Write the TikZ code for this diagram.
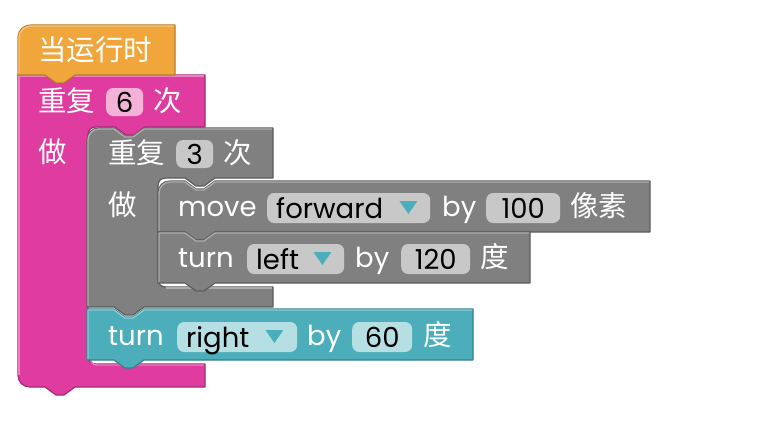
\documentclass[tikz,border=0pt]{standalone}
\usepackage{fontspec}
\setmainfont{Poppins}
\newfontfamily\cjk{Noto Sans CJK SC}
\usetikzlibrary{positioning}
\definecolor{hatorange}{HTML}{F0A63B}
\definecolor{hatdark}{HTML}{B87B2C}
\definecolor{reppink}{HTML}{E03CA0}
\definecolor{pinkdark}{HTML}{A02A73}
\definecolor{pinkfield}{HTML}{F4B2D9}
\definecolor{repgray}{HTML}{808080}
\definecolor{graydark}{HTML}{5C5C5C}
\definecolor{grayfield}{HTML}{C8C8C8}
\definecolor{turnteal}{HTML}{4CAEBB}
\definecolor{tealdark}{HTML}{367F88}
\definecolor{tealfield}{HTML}{B6DFE4}
\definecolor{ddteal}{HTML}{4BAEBC}

\begin{document}
\begin{tikzpicture}[x=1pt, y=-1pt,
    every node/.style={font=\fontsize{27.5}{32}\selectfont, inner sep=0pt,
      text height=23pt, text depth=2pt, anchor=west},
    lbl/.style={text=white},
    zh/.style={text=white, font=\fontsize{28.5}{33}\selectfont\cjk},
    field/.style={fill=#1, rounded corners=7pt, text=black, minimum height=30pt, align=center},
    dd/.style={align=left, text width=#1, inner xsep=9pt},
    ddtri/.style={fill=ddteal},
    blk/.style={fill=#1, line width=1.2pt, line join=round},
    hl/.style={draw=#1!65!white, line width=1.4pt, line join=round}
  ]
  \useasboundingbox (0,0) rectangle (770,444);

  % repeat 6 (pink)
  \filldraw[blk=reppink, draw=pinkdark] (18,75) -- (45,75) -- (56,83) -- (64,83) -- (75,75) -- (205,75)
    -- (205,127) -- (145,127) -- (134,135) -- (126,135) -- (115,127) -- (96,127)
    .. controls (91,127) and (88,130) .. (88,135) -- (88,356)
    .. controls (88,361) and (91,364) .. (96,364) -- (205,364) -- (205,387)
    -- (75,387) -- (64,395) -- (56,395) -- (45,387) -- (30,387)
    .. controls (23,387) and (18,382) .. (18,375) -- cycle;
  \draw[hl=reppink] (19,375) -- (19,76) -- (204,76);
  \draw[hl=reppink] (90,358) .. controls (91,362) and (93,365) .. (97,365) -- (204,365);

  % when run (hat)
  \filldraw[blk=hatorange, draw=hatdark] (18,75) -- (18,37) .. controls (18,30) and (24,25) .. (31,25)
    -- (175,25) -- (175,75) -- (75,75) -- (64,83) -- (56,83) -- (45,75) -- cycle;
  \draw[hl=hatorange] (19,74) -- (19,37) .. controls (19,31) and (25,26) .. (31,26) -- (174,26);

  % repeat 3 (gray)
  \filldraw[blk=repgray, draw=graydark] (87,140) .. controls (87,133) and (92,128) .. (99,128)
    -- (114,128) -- (125,136) -- (133,136) -- (144,128) -- (273,128) -- (273,178)
    -- (215,178) -- (204,186) -- (196,186) -- (185,178) -- (166,178)
    .. controls (161,178) and (158,181) .. (158,186) -- (158,279)
    .. controls (158,284) and (161,287) .. (166,287) -- (273,287) -- (273,307)
    -- (144,307) -- (133,315) -- (125,315) -- (114,307) -- (87,307) -- cycle;
  \draw[hl=repgray] (88,306) -- (88,140) .. controls (88,134) and (93,129) .. (99,129)
    -- (114,129) -- (125,137) -- (133,137) -- (144,129) -- (272,129);
  \draw[hl=repgray] (166,288) -- (272,288);

  % move forward
  \filldraw[blk=repgray, draw=graydark] (158,193) .. controls (158,186) and (163,181) .. (170,181)
    -- (185,181) -- (196,189) -- (204,189) -- (215,181) -- (650,181) -- (650,232)
    -- (215,232) -- (204,240) -- (196,240) -- (185,232) -- (158,232) -- cycle;
  \draw[hl=repgray] (159,231) -- (159,193) .. controls (159,187) and (164,182) .. (170,182)
    -- (185,182) -- (196,190) -- (204,190) -- (215,182) -- (649,182);

  % turn left
  \filldraw[blk=repgray, draw=graydark] (158,232) -- (185,232) -- (196,240) -- (204,240) -- (215,232)
    -- (530,232) -- (530,283) -- (215,283) -- (204,291) -- (196,291) -- (185,283) -- (158,283) -- cycle;
  \draw[hl=repgray] (159,282) -- (159,233) -- (185,233) -- (196,241) -- (204,241) -- (215,233) -- (529,233);

  % turn right (teal)
  \filldraw[blk=turnteal, draw=tealdark] (87,309) -- (114,309) -- (125,317) -- (133,317) -- (144,309)
    -- (473,309) -- (473,360) -- (144,360) -- (133,368) -- (125,368) -- (114,360) -- (87,360) -- cycle;
  \draw[hl=turnteal] (88,359) -- (88,310) -- (114,310) -- (125,318) -- (133,318) -- (144,310) -- (472,310);

  % labels
  \node[zh] (hat) at (38,50) {当运行时};

  \node[zh] (rep6a) at (38,101) {重复};
  \node[field=pinkfield, minimum width=37pt, minimum height=28pt] (rep6n) at (106,102) {6};
  \node[zh] (rep6b) at (153,101) {次};
  \node[zh] (rep6do) at (38,152) {做};

  \node[zh] (rep3a) at (108,153) {重复};
  \node[field=grayfield, minimum width=37pt, minimum height=28pt] (rep3n) at (176,154) {3};
  \node[zh] (rep3b) at (223,153) {次};
  \node[zh] (rep3do) at (108,205) {做};

  \node[lbl] (mv) at (178,206) {move};
  \node[field=grayfield, dd=145pt] (mvdir) at (267,208) {forward};
  \fill[ddtri] (mvdir.east) ++(-31,-7) -- ++(18,0) -- ++(-9,13) -- cycle;
  \node[lbl] (mvby) at (442,206) {by};
  \node[field=grayfield, minimum width=74pt] (mvn) at (486,208) {100};
  \node[zh] (mvpx) at (570,206) {像素};

  \node[lbl] (tl) at (178,257) {turn};
  \node[field=grayfield, dd=79pt] (tldir) at (247,259) {left};
  \fill[ddtri] (tldir.east) ++(-31,-7) -- ++(18,0) -- ++(-9,13) -- cycle;
  \node[lbl] (tlby) at (355,257) {by};
  \node[field=grayfield, minimum width=69pt] (tln) at (401,259) {120};
  \node[zh] (tldeg) at (480,257) {度};

  \node[lbl] (tr) at (108,335) {turn};
  \node[field=tealfield, dd=102pt] (trdir) at (177,337) {right};
  \fill[ddtri] (trdir.east) ++(-32,-7) -- ++(18,0) -- ++(-9,13) -- cycle;
  \node[lbl] (trby) at (307,335) {by};
  \node[field=tealfield, minimum width=60pt] (trn) at (352,337) {60};
  \node[zh] (trdeg) at (423,335) {度};
\end{tikzpicture}
\end{document}
